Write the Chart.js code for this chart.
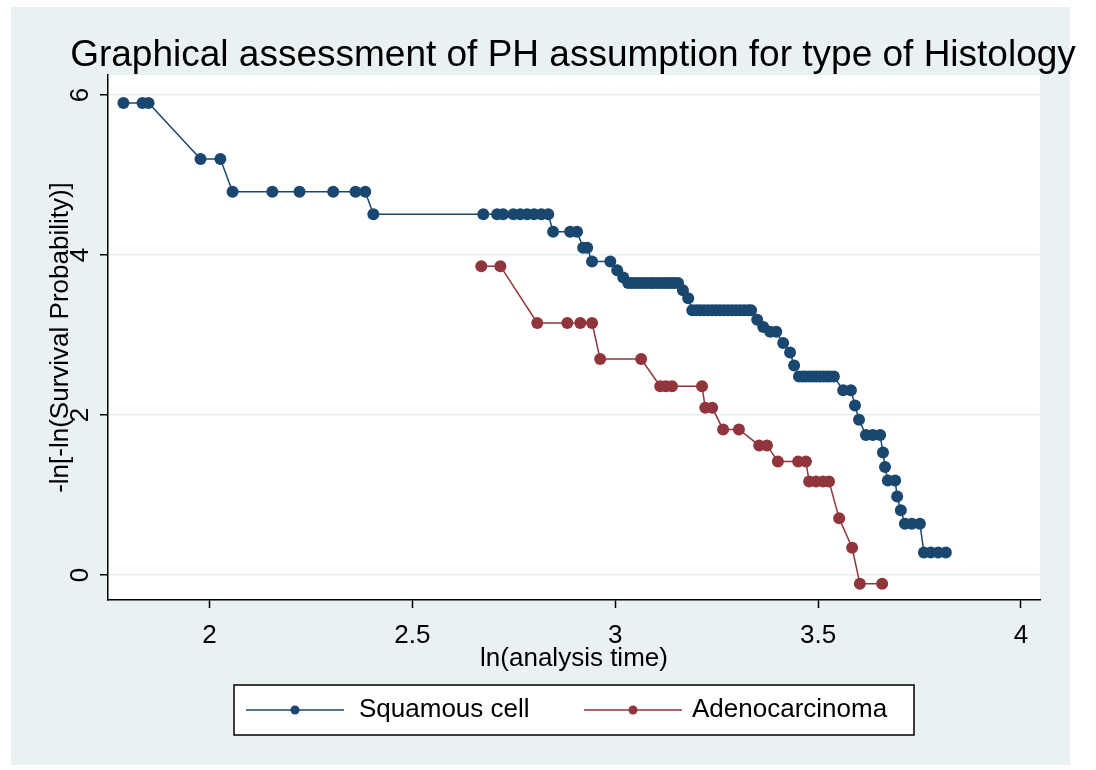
<!DOCTYPE html>
<html>
<head>
<meta charset="utf-8">
<script src="https://cdn.jsdelivr.net/npm/chart.js@4.4.0/dist/chart.umd.min.js"></script>
<style>
    body { margin: 0; background: #fff; }
    #chart { position: absolute; left: 0; top: 0; }
</style>
</head>
<body>
<canvas id="chart" width="1096" height="770"></canvas>
<script>
var fontFamily = '"Liberation Sans", Arial, sans-serif';
var chartTitle = 'Graphical assessment of PH assumption for type of Histology';

// ln(analysis time) and -ln[-ln(S)] for each group, one step per line
var squamousX = [1.788, 1.835, 1.850, 1.978, 2.027, 2.057, 2.155, 2.222, 2.305, 2.360, 2.384, 2.404,
    2.675, 2.709, 2.724, 2.749, 2.766, 2.783, 2.800, 2.818, 2.835,
    2.847, 2.889, 2.906,
    2.921, 2.931,
    2.943, 2.988,
    3.005, 3.020,
    3.032, 3.040, 3.049, 3.058, 3.067, 3.076, 3.086, 3.094, 3.103, 3.112, 3.121, 3.130, 3.138, 3.146, 3.155,
    3.167, 3.180,
    3.190, 3.200, 3.209, 3.219, 3.229, 3.239, 3.249, 3.258, 3.268, 3.278, 3.288, 3.298, 3.308, 3.318, 3.328, 3.335,
    3.350, 3.365,
    3.382, 3.397,
    3.414, 3.431, 3.441,
    3.453, 3.462, 3.470, 3.479, 3.488, 3.496, 3.505, 3.513, 3.522, 3.530, 3.539,
    3.562, 3.581,
    3.591, 3.601,
    3.618, 3.635, 3.653,
    3.660, 3.665,
    3.672, 3.690,
    3.695, 3.704,
    3.714, 3.731, 3.751,
    3.761, 3.778, 3.796, 3.815];
var squamousY = [5.90, 5.90, 5.90, 5.20, 5.20, 4.79, 4.79, 4.79, 4.79, 4.79, 4.79, 4.51,
    4.51, 4.51, 4.51, 4.51, 4.51, 4.51, 4.51, 4.51, 4.51,
    4.29, 4.29, 4.29,
    4.09, 4.09,
    3.92, 3.92,
    3.81, 3.72,
    3.65, 3.65, 3.65, 3.65, 3.65, 3.65, 3.65, 3.65, 3.65, 3.65, 3.65, 3.65, 3.65, 3.65, 3.65,
    3.56, 3.46,
    3.31, 3.31, 3.31, 3.31, 3.31, 3.31, 3.31, 3.31, 3.31, 3.31, 3.31, 3.31, 3.31, 3.31, 3.31, 3.31,
    3.19, 3.10,
    3.04, 3.04,
    2.90, 2.78, 2.62,
    2.48, 2.48, 2.48, 2.48, 2.48, 2.48, 2.48, 2.48, 2.48, 2.48, 2.48,
    2.31, 2.31,
    2.12, 1.94,
    1.75, 1.75, 1.75,
    1.53, 1.35,
    1.18, 1.18,
    0.98, 0.81,
    0.64, 0.64, 0.64,
    0.28, 0.28, 0.28, 0.28];

var adenoX = [2.670, 2.717, 2.808, 2.882, 2.914, 2.943, 2.963, 3.064, 3.111, 3.125, 3.140, 3.214,
    3.222, 3.239, 3.266, 3.305, 3.355, 3.374, 3.401, 3.451, 3.470, 3.478, 3.495, 3.512, 3.527,
    3.552, 3.584, 3.603, 3.658];
var adenoY = [3.86, 3.86, 3.15, 3.15, 3.15, 3.15, 2.70, 2.70, 2.36, 2.36, 2.36, 2.36,
    2.09, 2.09, 1.82, 1.82, 1.62, 1.62, 1.42, 1.42, 1.42, 1.17, 1.17, 1.17, 1.17,
    0.71, 0.34, -0.11, -0.11];

var seriesNames = ['Squamous cell', 'Adenocarcinoma'];
var seriesColors = ['#1a476f', '#90353b'];
var xTicks = [2, 2.5, 3, 3.5, 4];
var yTicks = [0, 2, 4, 6];

function toPoints(xs, ys) {
    var pts = [];
    for (var i = 0; i < xs.length; i++) {
        pts.push({ x: xs[i], y: ys[i] });
    }
    return pts;
}

// light graph region, then white plot region
var plotBg = {
    id: 'plotBg',
    beforeDraw: function(chart) {
        var a = chart.chartArea;
        var ctx = chart.ctx;
        ctx.save();
        ctx.fillStyle = '#eaf1f3';
        ctx.fillRect(11, 7, 1059, 758);
        ctx.fillStyle = '#fff';
        ctx.fillRect(a.left, a.top, a.right - a.left, a.bottom - a.top);
        ctx.restore();
    }
};

// title is wider than the plot region, so draw it here without squeezing
var wideTitle = {
    id: 'wideTitle',
    afterDraw: function(chart) {
        var ctx = chart.ctx;
        var a = chart.chartArea;
        ctx.save();
        ctx.fillStyle = '#000';
        ctx.font = '37px ' + fontFamily;
        ctx.textAlign = 'center';
        ctx.textBaseline = 'middle';
        ctx.fillText(chartTitle, (a.left + a.right) / 2 - 1, 56);
        ctx.restore();
    }
};

// Stata style legend with a box round it
var boxLegend = {
    id: 'boxLegend',
    afterDraw: function(chart) {
        var ctx = chart.ctx;
        var a = chart.chartArea;
        var w = 680, h = 50;
        var x0 = (a.left + a.right) / 2 - w / 2;
        var y0 = a.bottom + 85;
        ctx.save();
        ctx.fillStyle = '#fff';
        ctx.fillRect(x0, y0, w, h);
        ctx.strokeStyle = '#000';
        ctx.lineWidth = 1.5;
        ctx.strokeRect(x0, y0, w, h);
        var items = [{ ds: 0, lx: 12, tx: 125 }, { ds: 1, lx: 350, tx: 458 }];
        items.forEach(function(it) {
            var ds = chart.data.datasets[it.ds];
            var cy = y0 + h / 2;
            ctx.strokeStyle = ds.borderColor;
            ctx.lineWidth = 1.5;
            ctx.beginPath();
            ctx.moveTo(x0 + it.lx, cy);
            ctx.lineTo(x0 + it.lx + 98, cy);
            ctx.stroke();
            ctx.fillStyle = ds.borderColor;
            ctx.beginPath();
            ctx.arc(x0 + it.lx + 49, cy, 4.5, 0, Math.PI * 2);
            ctx.fill();
            ctx.fillStyle = '#000';
            ctx.font = '26px ' + fontFamily;
            ctx.textBaseline = 'middle';
            ctx.textAlign = 'left';
            ctx.fillText(ds.label, x0 + it.tx, cy);
        });
        ctx.restore();
    }
};

var ctx = document.getElementById('chart').getContext('2d');
var myChart = new Chart(ctx, {
    type: 'line',
    data: {
        datasets: [{
            label: seriesNames[0],
            data: toPoints(squamousX, squamousY),
            borderColor: seriesColors[0],
            backgroundColor: seriesColors[0],
            borderWidth: 1.5,
            pointRadius: 6,
            pointHoverRadius: 6,
            pointBorderWidth: 0
        }, {
            label: seriesNames[1],
            data: toPoints(adenoX, adenoY),
            borderColor: seriesColors[1],
            backgroundColor: seriesColors[1],
            borderWidth: 1.5,
            pointRadius: 6,
            pointHoverRadius: 6,
            pointBorderWidth: 0
        }]
    },
    options: {
        responsive: false,
        animation: false,
        layout: { padding: { left: 11, right: 56, top: 75, bottom: 5 } },
        plugins: {
            legend: { display: false },
            tooltip: { enabled: false },
            title: { display: false }
        },
        scales: {
            x: {
                type: 'linear',
                min: 1.75,
                max: 4.047,
                afterBuildTicks: function(scale) {
                    scale.ticks = xTicks.map(function(v) { return { value: v }; });
                },
                afterFit: function(scale) { scale.height = 165; },
                ticks: {
                    maxRotation: 0,
                    padding: 12,
                    color: '#000',
                    font: { size: 26, family: fontFamily },
                    callback: function(v) { return String(v); }
                },
                grid: { drawOnChartArea: false, tickLength: 8, tickColor: '#000', tickWidth: 1.5 },
                border: { color: '#000', width: 1.5 },
                title: {
                    display: true,
                    text: 'ln(analysis time)',
                    color: '#000',
                    font: { size: 26, family: fontFamily },
                    padding: { top: 0, bottom: 91 }
                }
            },
            y: {
                min: -0.3125,
                max: 6.25,
                afterBuildTicks: function(scale) {
                    scale.ticks = yTicks.map(function(v) { return { value: v }; });
                },
                afterFit: function(scale) { scale.width = 97; },
                ticks: {
                    minRotation: 90,
                    maxRotation: 90,
                    crossAlign: 'center',
                    padding: 12,
                    color: '#000',
                    font: { size: 26, family: fontFamily },
                    callback: function(v) { return String(v); }
                },
                grid: { color: '#e3edf1', lineWidth: 1.5, tickLength: 8, tickColor: '#000', tickWidth: 1.5 },
                border: { color: '#000', width: 1.5 },
                title: {
                    display: true,
                    text: '-ln[-ln(Survival Probability)]',
                    color: '#000',
                    font: { size: 26, family: fontFamily },
                    padding: { top: 34, bottom: 0 }
                }
            }
        }
    },
    plugins: [plotBg, boxLegend, wideTitle]
});
</script>
</body>
</html>
